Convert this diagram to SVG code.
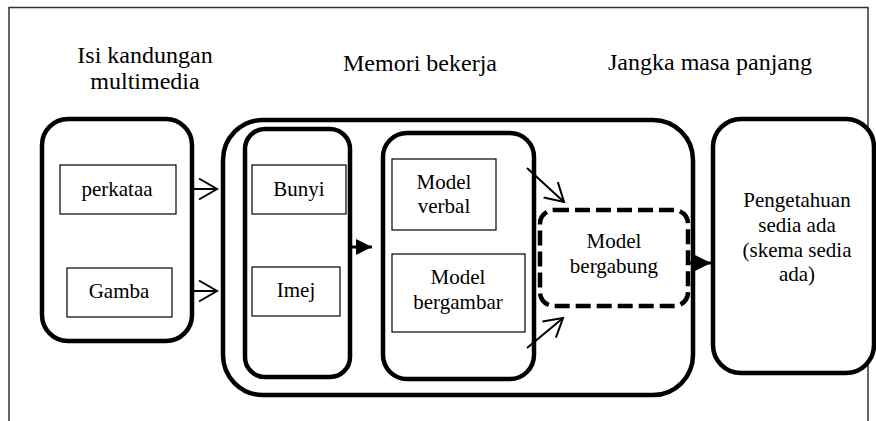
<svg xmlns="http://www.w3.org/2000/svg" width="876" height="421" viewBox="0 0 876 421">
  <style>
    .frame { fill: none; stroke: #333; stroke-width: 1.5; }
    .box { fill: #fff; stroke: #000; stroke-width: 4.5; }
    .dash { fill: #fff; stroke: #000; stroke-width: 4.5; stroke-dasharray: 15 6; }
    .item { fill: #fff; stroke: #000; stroke-width: 1.2; }
    .head { font-family: "Liberation Serif", "Times New Roman", "DejaVu Serif", serif; font-size: 24px; fill: #000; text-anchor: middle; }
    .lbl { font-family: "Liberation Serif", "Times New Roman", "DejaVu Serif", serif; font-size: 21px; fill: #000; text-anchor: middle; }
    .open { fill: none; stroke: #000; stroke-width: 2; }
    .solid { fill: none; stroke: #000; stroke-width: 3; }
  </style>
  <defs>
    <marker id="openHead" markerUnits="userSpaceOnUse" markerWidth="24" markerHeight="24" viewBox="0 0 24 24" refX="21" refY="12" orient="auto">
      <path d="M3,1.5 L21,12 L3,22.5" fill="none" stroke="#000" stroke-width="2"/>
    </marker>
    <marker id="solidHead" markerUnits="userSpaceOnUse" markerWidth="18" markerHeight="18" viewBox="0 0 18 18" refX="16" refY="9" orient="auto">
      <path d="M0,1 L16,9 L0,17 Z" fill="#000"/>
    </marker>
  </defs>

  <!-- page frame (open at the bottom) -->
  <path class="frame" d="M9,421 V7.5 H868 V421"/>

  <!-- column headings -->
  <text class="head" x="145" y="63">Isi kandungan</text>
  <text class="head" x="145" y="89">multimedia</text>
  <text class="head" x="420" y="71">Memori bekerja</text>
  <text class="head" x="710" y="70">Jangka masa panjang</text>

  <!-- multimedia content -->
  <g id="multimedia">
    <rect class="box" x="42" y="119" width="150" height="222" rx="26"/>
    <g id="perkataa">
      <rect class="item" x="60" y="165" width="116" height="49"/>
      <text class="lbl" x="117" y="196">perkataa</text>
    </g>
    <g id="gamba">
      <rect class="item" x="67" y="268" width="105" height="49"/>
      <text class="lbl" x="119" y="298">Gamba</text>
    </g>
  </g>

  <!-- working memory -->
  <g id="memori-bekerja">
    <rect class="box" x="223" y="120" width="470" height="275" rx="40"/>
  </g>

  <g id="deria">
    <rect class="box" x="245" y="129" width="105" height="248" rx="20"/>
    <g id="bunyi">
      <rect class="item" x="252" y="165" width="94" height="49"/>
      <text class="lbl" x="299" y="196">Bunyi</text>
    </g>
    <g id="imej">
      <rect class="item" x="252" y="267" width="88" height="49"/>
      <text class="lbl" x="296" y="297">Imej</text>
    </g>
  </g>

  <g id="model">
    <rect class="box" x="383" y="133" width="151" height="246" rx="24"/>
    <g id="model-verbal">
      <rect class="item" x="392" y="159" width="104" height="71"/>
      <text class="lbl" x="444" y="189">Model</text>
      <text class="lbl" x="444" y="213">verbal</text>
    </g>
    <g id="model-bergambar">
      <rect class="item" x="392" y="254" width="133" height="78"/>
      <text class="lbl" x="458" y="284">Model</text>
      <text class="lbl" x="458" y="309">bergambar</text>
    </g>
  </g>

  <g id="model-bergabung">
    <rect class="dash" x="540" y="210" width="148" height="96" rx="14"/>
    <text class="lbl" x="614" y="248">Model</text>
    <text class="lbl" x="614" y="273">bergabung</text>
  </g>

  <!-- long-term memory -->
  <g id="pengetahuan">
    <rect class="box" x="713" y="119" width="161" height="254" rx="28"/>
    <text class="lbl" x="797" y="207">Pengetahuan</text>
    <text class="lbl" x="797" y="232">sedia ada</text>
    <text class="lbl" x="797" y="257">(skema sedia</text>
    <text class="lbl" x="797" y="281">ada)</text>
  </g>

  <!-- connectors -->
  <g id="connectors">
    <line class="open" x1="193" y1="189" x2="217" y2="189" marker-end="url(#openHead)"/>
    <line class="open" x1="193" y1="291" x2="217" y2="291" marker-end="url(#openHead)"/>
    <line class="solid" x1="352" y1="247" x2="372" y2="247" marker-end="url(#solidHead)"/>
    <line class="open" x1="527" y1="168" x2="564" y2="202" marker-end="url(#openHead)"/>
    <line class="open" x1="527" y1="348" x2="563" y2="318" marker-end="url(#openHead)"/>
    <line class="solid" x1="690" y1="263" x2="711" y2="263" marker-end="url(#solidHead)"/>
  </g>
</svg>
